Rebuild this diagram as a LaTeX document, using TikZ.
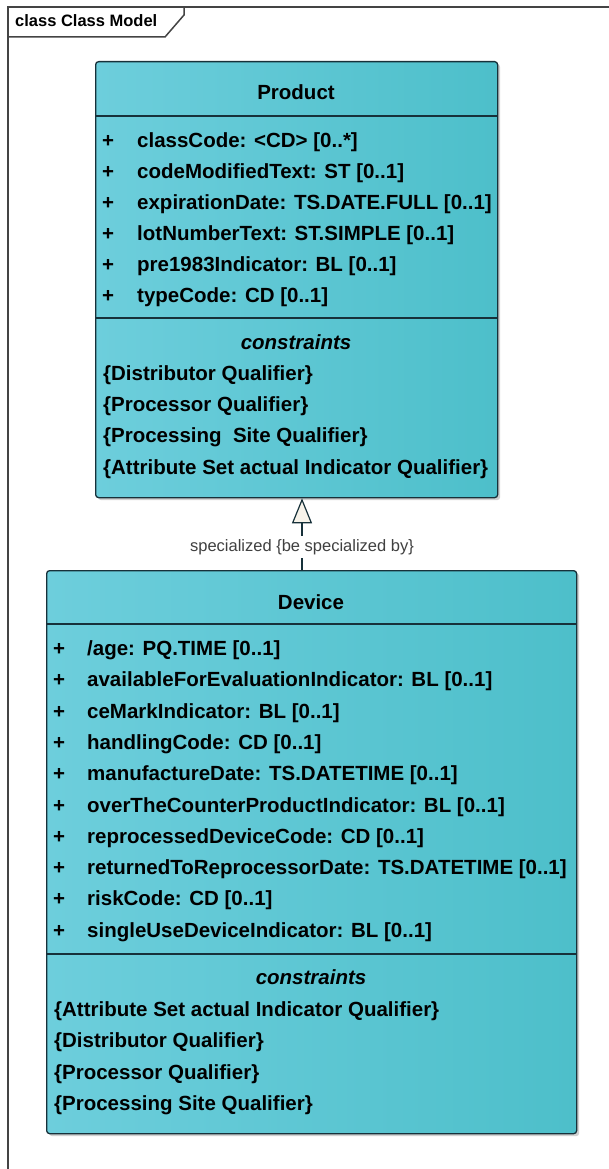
\documentclass[tikz,border=0pt]{standalone}
\usepackage{fontspec}
\setmainfont{Liberation Sans}
\usetikzlibrary{arrows.meta,shadows,calc}
\definecolor{tealL}{HTML}{6DCEDC}
\definecolor{tealR}{HTML}{4DBFCA}
\definecolor{edgec}{HTML}{17313A}
\definecolor{framec}{HTML}{444444}
\definecolor{tric}{HTML}{F7F3EA}
\begin{document}
\begin{tikzpicture}[x=1pt,y=-1pt,
  umlbox/.style={draw=edgec, line width=1.3pt, rounded corners=3pt, left color=tealL, right color=tealR,
    drop shadow={shadow xshift=2.5pt, shadow yshift=-2.5pt, fill=black!30, opacity=.6}, inner sep=0pt},
  divider/.style={draw=edgec, line width=1.3pt},
  txt/.style={anchor=base west, font=\fontsize{20.5}{24}\selectfont\bfseries, inner sep=0pt, text=black},
  ttl/.style={anchor=base, font=\fontsize{20.5}{24}\selectfont\bfseries, inner sep=0pt, text=black},
  cst/.style={anchor=base, font=\fontsize{20.5}{24}\selectfont\bfseries\itshape, inner sep=0pt, text=black},
  gen/.style={draw=edgec, line width=1.2pt, -{Triangle[length=25pt,width=20pt,fill=tric]}},
  framel/.style={draw=framec, line width=1.5pt}
]
\useasboundingbox (0,0) rectangle (608,1169);
% frame
\draw[framel] (8,1175) -- (8,7) -- (615,7);
\draw[framel] (8,37) -- (165,37) -- (184,15) -- (184,7);
\node[anchor=base west, font=\fontsize{16.5}{18}\selectfont\bfseries, inner sep=0pt] (frametitle) at (15,27) {class Class Model};

% Product
\node[umlbox, minimum width=402pt, minimum height=436pt, anchor=north west] (prod) at (95,61) {};
\draw[divider] ($(prod.north west)+(0,55)$) -- ($(prod.north east)+(0,55)$);
\draw[divider] ($(prod.north west)+(0,257)$) -- ($(prod.north east)+(0,257)$);
\node[ttl] (prodname) at (296,99.5) {Product};
\foreach \t [count=\i from 0] in {classCode: <CD> [0..*], codeModifiedText: ST [0..1], expirationDate: TS.DATE.FULL [0..1], lotNumberText: ST.SIMPLE [0..1], pre1983Indicator: BL [0..1], typeCode: CD [0..1]}{
  \node[txt] (pp\i) at (102,147.5+31*\i) {+};
  \node[txt] (pa\i) at (137,147.5+31*\i) {\t};
}
\node[cst] (pcst) at (296,349.5) {constraints};
\foreach \t [count=\i from 0] in {\{Distributor Qualifier\}, \{Processor Qualifier\}, \{Processing\ \ Site Qualifier\}, \{Attribute Set actual Indicator Qualifier\}}{
  \node[txt] (pc\i) at (103,380.5+31.2*\i) {\t};
}

% Device
\node[umlbox, minimum width=530pt, minimum height=563pt, anchor=north west] (dev) at (46,570) {};
\draw[divider] ($(dev.north west)+(0,54)$) -- ($(dev.north east)+(0,54)$);
\draw[divider] ($(dev.north west)+(0,384)$) -- ($(dev.north east)+(0,384)$);
\node[ttl] (devname) at (311,609.5) {Device};
\foreach \t [count=\i from 0] in {/age: PQ.TIME [0..1], availableForEvaluationIndicator: BL [0..1], ceMarkIndicator: BL [0..1], handlingCode: CD [0..1], manufactureDate: TS.DATETIME [0..1], overTheCounterProductIndicator: BL [0..1], reprocessedDeviceCode: CD [0..1], returnedToReprocessorDate: TS.DATETIME [0..1], riskCode: CD [0..1], singleUseDeviceIndicator: BL [0..1]}{
  \node[txt] (dp\i) at (53,655.5+31.3*\i) {+};
  \node[txt] (da\i) at (87,655.5+31.3*\i) {\t};
}
\node[cst] (dcst) at (311,984.5) {constraints};
\foreach \t [count=\i from 0] in {\{Attribute Set actual Indicator Qualifier\}, \{Distributor Qualifier\}, \{Processor Qualifier\}, \{Processing Site Qualifier\}}{
  \node[txt] (dc\i) at (54,1016.5+31.3*\i) {\t};
}

% generalization
\coordinate (gx) at (302,0);
\draw[gen] (dev.north -| gx) -- (prod.south -| gx)
  node[pos=0.32, fill=white, inner xsep=1pt, inner ysep=3pt, font=\fontsize{16.5}{18}\selectfont, text=black!75] (genlbl) {specialized \{be specialized by\}};
\end{tikzpicture}
\end{document}
